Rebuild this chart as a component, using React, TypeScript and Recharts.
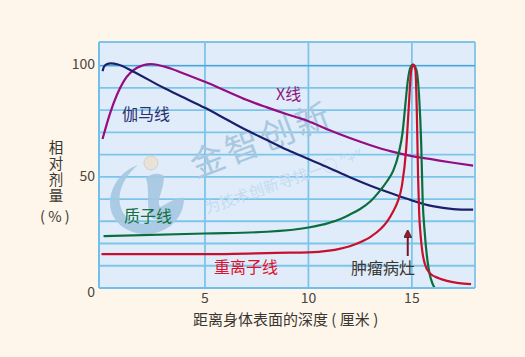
import {
  ComposedChart,
  Line,
  XAxis,
  YAxis,
  CartesianGrid,
  ReferenceLine,
} from "recharts";

const FONT = '"Noto Sans CJK SC", "Noto Sans", sans-serif';

const xTicks = [5, 10, 15];
const yTicks = [0, 50, 100];
const hGrid = [10, 20, 30, 40, 50, 60, 70, 80, 90, 100, 110.6];
const vGrid = [-0.12, 5, 10, 15, 18.05];

const gammaX = [0.05, 0.12, 0.25, 0.45, 0.8, 1.5, 3, 4, 5, 6, 7, 8, 9, 10, 11, 12, 13, 14, 15, 16, 17, 17.96];
const gammaY = [97.5, 99.5, 100.6, 101, 100.5, 97.5, 90, 85.5, 81, 76, 71, 66.5, 62, 58, 54, 49.8, 46, 42.6, 39.4, 36.8, 35.5, 35.2];

const xrayX = [0.05, 0.43, 1.08, 1.72, 2.37, 3.33, 4, 5, 6, 7, 8, 9, 10, 11, 12, 13, 14, 15, 16, 17, 17.96];
const xrayY = [67, 79, 93, 99, 100.7, 98.7, 96.3, 92.7, 88.7, 84.6, 81.2, 78, 75, 71, 67.4, 64.2, 61.4, 59.3, 57.8, 56.3, 55];

const protonX = [0.1, 5, 8, 10, 11, 11.55, 12, 12.5, 13, 13.48, 13.8, 14.1, 14.36, 14.55, 14.68, 14.8, 14.93, 15.05, 15.22, 15.35, 15.45, 15.52, 15.62, 15.8, 16.1];
const protonY = [23.3, 24.5, 25.3, 27.2, 29.3, 31, 33, 35.5, 39, 44, 48, 52.8, 60.4, 70, 82, 93, 99.2, 100.4, 98, 85.9, 65, 40, 25, 9.2, 0];

const heavyX = [0, 5, 9.13, 10, 11, 11.5, 12, 12.5, 13, 13.5, 13.8, 14.1, 14.3, 14.52, 14.72, 14.85, 14.97, 15.07, 15.17, 15.24, 15.3, 15.35, 15.42, 15.5, 15.62, 15.85, 16.3, 16.7, 17.86];
const heavyY = [15.2, 15.2, 15.9, 16, 16.8, 17.6, 18.8, 20.6, 23, 26.6, 29.8, 34.5, 38.5, 46, 62, 81.4, 98, 100.4, 98, 78.5, 49.8, 34, 24, 16.7, 11, 6.8, 4.4, 3.2, 1.7];

const toPoints = (xs: number[], ys: number[]) => xs.map((x, i) => ({ x, y: ys[i] }));

function YTick({ x, y, payload }: any) {
  if (!yTicks.includes(payload.value)) return null;
  const shift = payload.value === 0 ? 9 : payload.value === 50 ? 4 : 3;
  return (
    <text x={x + 4} y={y + shift} textAnchor="end" fontSize={14} fill="#4a4540" fontFamily={FONT}>
      {payload.value}
    </text>
  );
}

function Label({ x, y, color, size = 16, children }: any) {
  return (
    <text x={x} y={y} fontSize={size} fill={color} fontFamily={FONT}>
      {children}
    </text>
  );
}

function Watermark() {
  return (
    <g>
      <path
        d="M138 165 C118 172 110 190 110 203 C110 222 128 235 148 234 C168 233 184 218 184 198 C176 196 166 205 160 207 C156 200 164 190 164 176 C158 172 150 174 146 178 C150 190 146 205 150 215 C152 220 156 220 160 218 C150 226 132 226 124 214 C114 198 122 178 138 165 Z"
        fill="#a5c8e2"
        opacity={0.9}
      />
      <circle cx={151} cy={163} r={7} fill="#e8e2d8" stroke="#c9c2b2" strokeWidth={0.6} />
      <text
        x={196}
        y={178}
        fontSize={34}
        letterSpacing={3.5}
        fill="#a8c8e0"
        fontFamily={FONT}
        transform="rotate(-21 196 178)"
      >
        金智创新
      </text>
      <text
        x={207}
        y={214}
        fontSize={15.5}
        fill="#c3dcf0"
        fontFamily={FONT}
        transform="rotate(-19 207 214)"
      >
        为技术创新寻找一○ ″+″
      </text>
    </g>
  );
}

export default function App() {
  return (
    <div style={{ position: "absolute", left: 0, top: 0, width: 525, height: 357, background: "#fef6ea" }}>
      <ComposedChart
        width={525}
        height={357}
        margin={{ top: 42, right: 50, bottom: 39, left: 59 }}
      >
        <defs>
          <marker id="arrowHead" markerWidth="4" markerHeight="4" refX="1.5" refY="2" orient="auto">
            <path d="M0 0 L4 2 L0 4 Z" fill="#a3172c" stroke="#3a2024" strokeWidth={0.4} />
          </marker>
        </defs>
        <CartesianGrid
          fill="#e0ecf9"
          stroke="#7cc5ea"
          strokeWidth={1.8}
          horizontalValues={hGrid}
          verticalValues={vGrid}
        />
        <XAxis
          type="number"
          dataKey="x"
          domain={[-0.12, 18.05]}
          ticks={xTicks}
          interval={0}
          allowDataOverflow
          height={30}
          axisLine={{ stroke: "#6fc0ea", strokeWidth: 2 }}
          tickLine={false}
          tick={{ fill: "#4a4540", fontSize: 14, fontFamily: FONT }}
          tickMargin={-1}
        />
        <YAxis
          type="number"
          dataKey="y"
          domain={[0, 110.6]}
          ticks={yTicks}
          interval={0}
          allowDataOverflow
          width={40}
          axisLine={{ stroke: "#6fc0ea", strokeWidth: 2 }}
          tickLine={false}
          tick={<YTick />}
        />
        <ReferenceLine y={100} stroke="#4aa5dc" strokeWidth={1.4} />
        <Watermark />
        <Line data={toPoints(xrayX, xrayY)} dataKey="y" type="monotone" stroke="#960c82" strokeWidth={2.2} dot={false} isAnimationActive={false} />
        <Line data={toPoints(gammaX, gammaY)} dataKey="y" type="monotone" stroke="#1b1f6b" strokeWidth={2.2} dot={false} isAnimationActive={false} />
        <Line data={toPoints(protonX, protonY)} dataKey="y" type="monotone" stroke="#0b6e3c" strokeWidth={2.2} dot={false} isAnimationActive={false} />
        <Line data={toPoints(heavyX, heavyY)} dataKey="y" type="monotone" stroke="#c8102e" strokeWidth={2.2} dot={false} isAnimationActive={false} />
        <ReferenceLine
          segment={[{ x: 14.8, y: 14.4 }, { x: 14.8, y: 24 }]}
          stroke="#7a1426"
          strokeWidth={2}
          markerEnd="url(#arrowHead)"
        />
        <Label x={122} y={120} color="#2a2f72">伽马线</Label>
        <Label x={276} y={100} color="#8e1a80">X线</Label>
        <Label x={124} y={222} color="#13703f">质子线</Label>
        <Label x={214} y={273} color="#e0102e">重离子线</Label>
        <Label x={351} y={274} color="#3a3632">肿瘤病灶</Label>
        <Label x={193} y={325} color="#3a3632" size={15}>距离身体表面的深度 ( 厘米 )</Label>
        <text
          x={56}
          y={140}
          fontSize={14.5}
          letterSpacing={1.7}
          fill="#3a3632"
          fontFamily={FONT}
          style={{ writingMode: "vertical-rl", textOrientation: "upright" }}
        >
          相对剂量
        </text>
        <Label x={40} y={222} color="#3a3632" size={14.5}>( % )</Label>
      </ComposedChart>
    </div>
  );
}
